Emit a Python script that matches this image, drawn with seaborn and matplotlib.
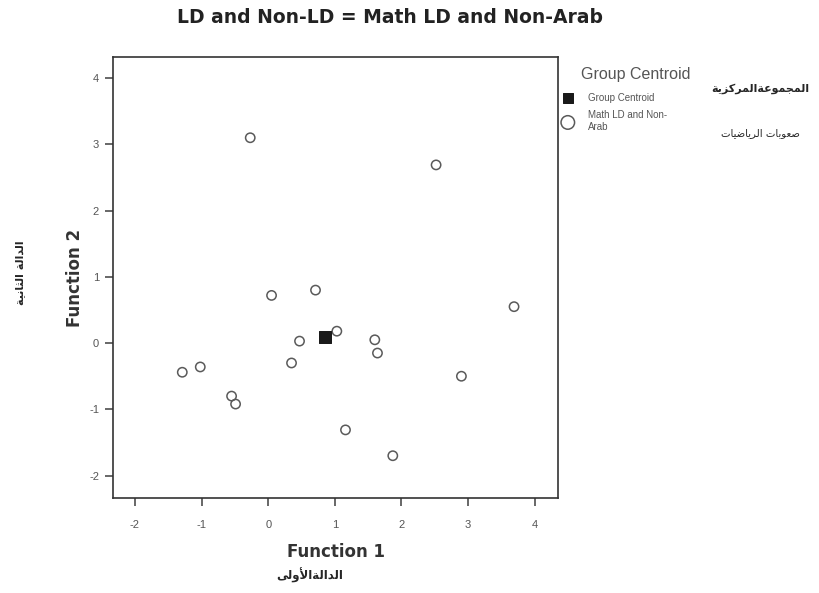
import matplotlib
matplotlib.use("Agg")
import matplotlib.pyplot as plt
import seaborn as sns
import pandas as pd

# ---- data ----
func1 = [-0.27, 2.52, 0.05, 0.71, 3.69, 1.03, 0.47, 1.60, 1.64, 0.35,
         -1.29, -1.02, -0.55, -0.49, 2.90, 1.16, 1.87]
func2 = [3.10, 2.69, 0.72, 0.80, 0.55, 0.18, 0.03, 0.05, -0.15, -0.30,
         -0.44, -0.36, -0.80, -0.92, -0.50, -1.31, -1.70]
centroid_f1 = [0.85]
centroid_f2 = [0.09]
xticks = [-2, -1, 0, 1, 2, 3, 4]
yticks = [-2, -1, 0, 1, 2, 3, 4]
title = "LD and Non-LD = Math LD and Non-Arab"
group_label = "Math LD and Non-\nArab"
centroid_label = "Group Centroid"
legend_title = "Group Centroid"
ar_centroid = "المجموعةالمركزية"
ar_group = "صعوبات الرياضيات"
ar_f2 = "الدالة الثانية"
ar_f1 = "الدالةالأولى"

# ---- minimal Arabic shaping (presentation forms + visual order) ----
FORMS = {
    'ا': (0xFE8D, 0xFE8E, None, None), 'أ': (0xFE83, 0xFE84, None, None),
    'ب': (0xFE8F, 0xFE90, 0xFE91, 0xFE92), 'ة': (0xFE93, 0xFE94, None, None),
    'ت': (0xFE95, 0xFE96, 0xFE97, 0xFE98), 'ث': (0xFE99, 0xFE9A, 0xFE9B, 0xFE9C),
    'ج': (0xFE9D, 0xFE9E, 0xFE9F, 0xFEA0), 'د': (0xFEA9, 0xFEAA, None, None),
    'ر': (0xFEAD, 0xFEAE, None, None), 'ز': (0xFEAF, 0xFEB0, None, None),
    'ص': (0xFEB9, 0xFEBA, 0xFEBB, 0xFEBC), 'ض': (0xFEBD, 0xFEBE, 0xFEBF, 0xFEC0),
    'ع': (0xFEC9, 0xFECA, 0xFECB, 0xFECC), 'ك': (0xFED9, 0xFEDA, 0xFEDB, 0xFEDC),
    'ل': (0xFEDD, 0xFEDE, 0xFEDF, 0xFEE0), 'م': (0xFEE1, 0xFEE2, 0xFEE3, 0xFEE4),
    'ن': (0xFEE5, 0xFEE6, 0xFEE7, 0xFEE8), 'ه': (0xFEE9, 0xFEEA, 0xFEEB, 0xFEEC),
    'و': (0xFEED, 0xFEEE, None, None), 'ى': (0xFEEF, 0xFEF0, None, None),
    'ي': (0xFEF1, 0xFEF2, 0xFEF3, 0xFEF4),
}
LAMALEF = {'ا': (0xFEFB, 0xFEFC), 'أ': (0xFEF7, 0xFEF8)}


def dual(c):
    return c in FORMS and FORMS[c][2] is not None


def shape(s):
    units = []
    i = 0
    while i < len(s):
        c = s[i]
        if c == 'ل' and i + 1 < len(s) and s[i + 1] in LAMALEF:
            units.append(('LA', s[i + 1]))
            i += 2
        else:
            units.append(('C', c))
            i += 1
    out = []
    for k, (kind, c) in enumerate(units):
        prev = units[k - 1] if k > 0 else None
        nxt = units[k + 1] if k + 1 < len(units) else None
        jp = prev is not None and prev[0] == 'C' and dual(prev[1])
        if kind == 'LA':
            out.append(chr(LAMALEF[c][1] if jp else LAMALEF[c][0]))
            continue
        if c not in FORMS:
            out.append(c)
            continue
        jn = dual(c) and nxt is not None and (nxt[0] == 'LA' or nxt[1] in FORMS)
        f = FORMS[c]
        if jp and jn:
            out.append(chr(f[3]))
        elif jp:
            out.append(chr(f[1]))
        elif jn:
            out.append(chr(f[2]))
        else:
            out.append(chr(f[0]))
    return ''.join(reversed(out))


sns.set_theme(style="ticks")
plt.rcParams['font.family'] = ['Liberation Sans', 'DejaVu Sans']
plt.rcParams['axes.unicode_minus'] = False

df_pts = pd.DataFrame({"f1": func1, "f2": func2})
df_cen = pd.DataFrame({"f1": centroid_f1, "f2": centroid_f2})

W, H = 820, 593
fig = plt.figure(figsize=(8.2, 5.93), dpi=100)
ax = fig.add_axes([0.1378, 0.160, 0.5427, 0.744])

sns.scatterplot(data=df_pts, x="f1", y="f2", ax=ax, marker="o", s=45,
                facecolor="none", edgecolor="#5a5a5a", linewidth=1.1,
                label=group_label)
sns.scatterplot(data=df_cen, x="f1", y="f2", ax=ax, marker="s", s=80,
                color="#1a1a1a", edgecolor="#1a1a1a", label=centroid_label)

ax.set_xlim(-2.33, 4.35)
ax.set_ylim(-2.34, 4.32)
ax.set_xticks(xticks)
ax.set_yticks(yticks)
ax.tick_params(axis="both", labelsize=8, colors="#555555", length=6,
               direction="out")
ax.tick_params(axis="x", pad=10)
ax.tick_params(axis="y", pad=4)
for sp in ax.spines.values():
    sp.set_color("#333333")
    sp.set_linewidth(1.2)

ax.set_xlabel("Function 1", fontsize=12, fontweight="bold", color="#333333",
              labelpad=9, family=["DejaVu Sans"])
ax.set_ylabel("Function 2", fontsize=12, fontweight="bold", color="#333333",
              labelpad=4, family=["DejaVu Sans"])
fig.text(0.476, 0.971, title, ha="center", va="center", fontsize=13.5,
         fontweight="bold", color="#222222", family=["DejaVu Sans"])

handles, labels = ax.get_legend_handles_labels()
order = [labels.index(centroid_label), labels.index(group_label)]
leg = ax.legend([handles[i] for i in order], [labels[i] for i in order],
                loc="upper left", bbox_to_anchor=(561 / W, 1 - 93 / H),
                bbox_transform=fig.transFigure, frameon=False, fontsize=7,
                handletextpad=1.4, borderaxespad=0.0, borderpad=0.0,
                handlelength=1.4, labelspacing=0.7)
for t in leg.get_texts():
    t.set_color("#555555")
    t.set_linespacing(1.3)
leg.legend_handles[0].set_sizes([50])
leg.legend_handles[1].set_sizes([95])
fig.text(581 / W, 1 - 75 / H, legend_title, ha="left", va="center",
         fontsize=11.5, color="#555555")

fig.text(760 / W, 1 - 89 / H, shape(ar_centroid), ha="center", va="center",
         fontsize=8, fontweight="bold", family=["DejaVu Sans"])
fig.text(760 / W, 1 - 133 / H, shape(ar_group), ha="center", va="center",
         fontsize=7.3, family=["DejaVu Sans"])
fig.text(0.024, 0.54, shape(ar_f2), ha="center", va="center", rotation=90,
         fontsize=8, fontweight="bold", family=["DejaVu Sans"])
fig.text(310 / W, 1 - 575 / H, shape(ar_f1), ha="center", va="center",
         fontsize=8.5, fontweight="bold", family=["DejaVu Sans"])

fig.savefig("out.png", dpi=100)
